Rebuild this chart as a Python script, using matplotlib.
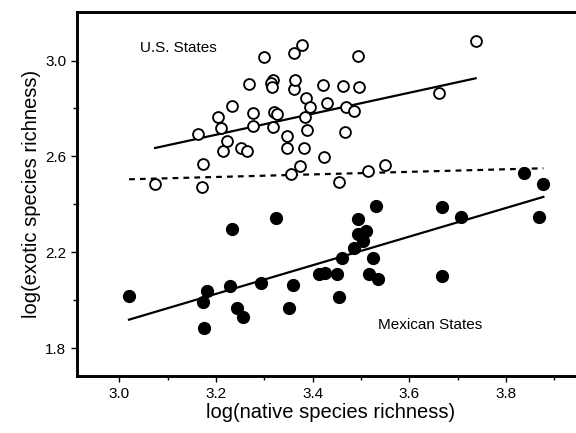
import numpy as np
import matplotlib
matplotlib.use("Agg")
import matplotlib.pyplot as plt
from matplotlib.ticker import FixedLocator, FormatStrFormatter

# US states (open circles): log native richness, log exotic richness
us_native = [3.074, 3.163, 3.170, 3.172, 3.203, 3.210, 3.215, 3.222, 3.232, 3.251,
             3.263, 3.268, 3.276, 3.277, 3.299, 3.317, 3.313, 3.315, 3.317, 3.319,
             3.327, 3.346, 3.346, 3.354, 3.361, 3.362, 3.363, 3.374, 3.377, 3.381,
             3.383, 3.386, 3.389, 3.394, 3.422, 3.423, 3.429, 3.455, 3.462, 3.467,
             3.469, 3.485, 3.494, 3.496, 3.515, 3.550, 3.662, 3.737]
us_exotic = [2.484, 2.694, 2.472, 2.569, 2.763, 2.718, 2.624, 2.666, 2.810, 2.637,
             2.624, 2.901, 2.728, 2.780, 3.013, 2.919, 2.905, 2.888, 2.722, 2.784,
             2.776, 2.685, 2.637, 2.527, 3.030, 2.880, 2.919, 2.562, 3.065, 2.637,
             2.763, 2.845, 2.710, 2.808, 2.898, 2.599, 2.822, 2.495, 2.892, 2.703,
             2.808, 2.788, 3.019, 2.888, 2.541, 2.565, 2.863, 3.083]

# Mexican states (filled circles)
mx_native = [3.020, 3.181, 3.174, 3.175, 3.229, 3.234, 3.243, 3.255, 3.292, 3.323,
             3.351, 3.359, 3.412, 3.425, 3.450, 3.455, 3.460, 3.486, 3.494, 3.494,
             3.503, 3.510, 3.516, 3.524, 3.531, 3.534, 3.667, 3.668, 3.707, 3.836,
             3.867, 3.877]
mx_exotic = [2.020, 2.040, 1.995, 1.884, 2.060, 2.298, 1.967, 1.933, 2.074, 2.345,
             1.967, 2.065, 2.109, 2.113, 2.110, 2.013, 2.178, 2.218, 2.340, 2.277,
             2.248, 2.291, 2.110, 2.178, 2.394, 2.090, 2.103, 2.391, 2.349, 2.530,
             2.349, 2.485]

# regression fits: (intercept, slope)
us_fit = (1.289, 0.438)
mx_fit = (0.117, 0.597)
all_fit = (2.343, 0.0536)

x_major = [3.0, 3.2, 3.4, 3.6, 3.8]
x_minor = [3.1, 3.3, 3.5, 3.7, 3.9]
y_major = [1.8, 2.2, 2.6, 3.0]
y_minor = [2.0, 2.4, 2.8]

plt.rcParams["font.family"] = ["Liberation Sans", "DejaVu Sans"]

fig = plt.figure(figsize=(5.76, 4.33), dpi=100)
ax = fig.add_axes([0.1342, 0.1316, 0.8788, 0.8406])

ax.plot(us_native, us_exotic, "o", mfc="white", mec="black", ms=7.8, mew=1.35, zorder=3)
ax.plot(mx_native, mx_exotic, "o", mfc="black", mec="black", ms=8.5, zorder=3)

def fit_line(xs, fit, **kw):
    xx = np.array([min(xs), max(xs)])
    ax.plot(xx, fit[0] + fit[1] * xx, color="black", **kw)

fit_line(us_native, us_fit, lw=1.6)
fit_line(mx_native, mx_fit, lw=1.6)
fit_line(us_native + mx_native, all_fit, lw=1.6, ls=(0, (2.6, 2.3)))

ax.text(3.043, 3.052, "U.S. States", fontsize=11, va="center", ha="left")
ax.text(3.536, 1.898, "Mexican States", fontsize=11, va="center", ha="left")

ax.set_xlim(2.913, 3.96)
ax.set_ylim(1.685, 3.202)
ax.xaxis.set_major_locator(FixedLocator(x_major))
ax.xaxis.set_minor_locator(FixedLocator(x_minor))
ax.yaxis.set_major_locator(FixedLocator(y_major))
ax.yaxis.set_minor_locator(FixedLocator(y_minor))
ax.xaxis.set_major_formatter(FormatStrFormatter("%.1f"))
ax.yaxis.set_major_formatter(FormatStrFormatter("%.1f"))
ax.tick_params(which="major", direction="out", length=4, width=1.0, labelsize=11, pad=4)
ax.tick_params(which="minor", direction="out", length=3, width=1.0)
for s in ax.spines.values():
    s.set_linewidth(2.1)

ax.set_xlabel("log(native species richness)", fontsize=14.5, labelpad=1)
ax.set_ylabel("log(exotic species richness)", fontsize=14.5, labelpad=3)

fig.savefig("out.png", dpi=100)
